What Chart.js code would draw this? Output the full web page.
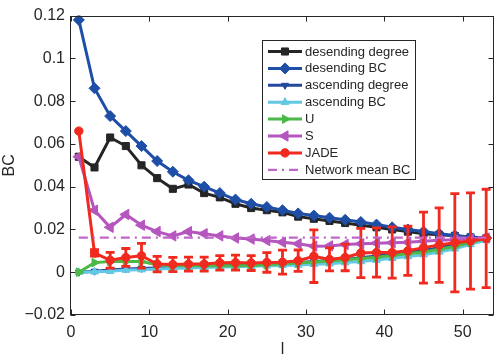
<!DOCTYPE html>
<html><head><meta charset="utf-8">
<script src="https://cdn.jsdelivr.net/npm/chart.js@4.4.0/dist/chart.umd.min.js"></script>
<style>html,body{margin:0;padding:0;background:#fff;}#wrap{width:501px;height:356px;}</style>
</head><body><div id="wrap"><canvas id="c" width="501" height="356"></canvas></div>
<script>
// ---- data ----
const lValues = [1,3,5,7,9,11,13,15,17,19,21,23,25,27,29,31,33,35,37,39,41,43,45,47,49,51,53];
const desendingDegree = [0.054,0.049,0.063,0.059,0.050,0.044,0.039,0.041,0.037,0.035,0.032,0.030,0.029,0.028,0.026,0.025,0.024,0.023,0.022,0.021,0.020,0.019,0.018,0.0175,0.017,0.0163,0.0158];
const desendingBC = [0.118,0.086,0.073,0.066,0.059,0.052,0.047,0.043,0.040,0.037,0.034,0.032,0.0305,0.029,0.0275,0.0265,0.0255,0.0245,0.0235,0.0223,0.021,0.020,0.019,0.018,0.0172,0.0165,0.016];
const ascendingDegree = [0.000,0.0005,0.001,0.0015,0.0018,0.002,0.0022,0.0025,0.0028,0.003,0.0032,0.0035,0.0038,0.0042,0.0046,0.005,0.0055,0.006,0.0068,0.0076,0.0085,0.0093,0.0102,0.0115,0.013,0.0145,0.016];
const ascendingBC = [0.000,0.0002,0.0005,0.001,0.0012,0.0015,0.0017,0.002,0.0022,0.0024,0.0026,0.0028,0.003,0.0032,0.0034,0.0037,0.004,0.0045,0.005,0.0057,0.0065,0.0073,0.0082,0.0095,0.011,0.013,0.015];
const uValues = [0.000,0.0045,0.005,0.005,0.005,0.0035,0.003,0.003,0.003,0.003,0.003,0.0032,0.0035,0.004,0.0043,0.0048,0.0052,0.0058,0.0064,0.007,0.0078,0.0086,0.0095,0.0107,0.012,0.014,0.0158];
const sValues = [0.054,0.029,0.021,0.027,0.022,0.019,0.017,0.019,0.018,0.017,0.016,0.0155,0.0148,0.0140,0.0133,0.0122,0.0123,0.0130,0.0133,0.0136,0.0138,0.014,0.0145,0.015,0.0152,0.0156,0.016];
const jadeValues = [0.066,0.0090,0.0056,0.0069,0.0077,0.0038,0.0036,0.0038,0.0038,0.0044,0.0045,0.0043,0.0046,0.0047,0.0054,0.0075,0.0060,0.0069,0.0090,0.0092,0.0092,0.0100,0.0115,0.0127,0.0138,0.0146,0.0158];
const jadeErr = [0,0.0015,0.0037,0.0042,0.0058,0.0036,0.0033,0.0033,0.0033,0.0034,0.0035,0.0035,0.0046,0.0056,0.0050,0.0123,0.0054,0.0062,0.0115,0.0115,0.0120,0.0115,0.0166,0.0174,0.0230,0.0225,0.0230];
const networkMeanBC = 0.0162;
const xTicks = [0,10,20,30,40,50];
const xTickLabels = ['0','10','20','30','40','50'];
const yTicks = [-0.02,0,0.02,0.04,0.06,0.08,0.1,0.12];
const yTickLabels = ['\u22120.02','0','0.02','0.04','0.06','0.08','0.1','0.12'];
const seriesLabels = ['desending degree','desending BC','ascending degree','ascending BC','U','S','JADE','Network mean BC'];

// ---- styles ----
const TXT = '#262626';
const FONT = 'Liberation Sans, Arial, Helvetica, sans-serif';
const cols = ['#252525','#1f4ea6','#24489e','#62c8e4','#4cb847','#b556be','#f02a1e','#c066c8'];
const styles = [
  {pointStyle:'rect', rotation:0, radius:5},
  {pointStyle:'rectRot', rotation:0, radius:5.5},
  {pointStyle:'triangle', rotation:180, radius:4},
  {pointStyle:'triangle', rotation:0, radius:4.5},
  {pointStyle:'triangle', rotation:90, radius:5},
  {pointStyle:'triangle', rotation:-90, radius:6},
  {pointStyle:'circle', rotation:0, radius:4.2},
  {pointStyle:false, rotation:0, radius:0}
];
const pts = arr => lValues.map((l,i)=>({x:l, y:arr[i]}));
const seriesData = [desendingDegree, desendingBC, ascendingDegree, ascendingBC, uValues, sValues, jadeValues];
const N = seriesLabels.length;
const datasets = seriesData.map((arr,i)=>({
  label: seriesLabels[i], data: pts(arr),
  borderColor: cols[i], backgroundColor: cols[i],
  borderWidth: 3,
  pointStyle: styles[i].pointStyle, pointRotation: styles[i].rotation,
  pointRadius: styles[i].radius, pointBorderWidth: 1,
  tension: 0, order: N - i
}));
datasets.push({
  label: seriesLabels[7],
  data: [{x:lValues[0], y:networkMeanBC},{x:lValues[lValues.length-1], y:networkMeanBC}],
  borderColor: cols[7], backgroundColor: cols[7], borderWidth: 2.2,
  borderDash: [9,5,2,5], pointRadius: 0, tension: 0, order: 0
});

const extras = {
  id: 'extras',
  afterDatasetDraw(chart, args) {
    if (args.index !== 6) return;
    const xs = chart.scales.x, ys = chart.scales.y, ctx = chart.ctx;
    ctx.save();
    ctx.strokeStyle = cols[6]; ctx.lineWidth = 2.8; ctx.lineCap = 'butt';
    lValues.forEach((l,i)=>{
      const e = jadeErr[i]; if (!e) return;
      const px = xs.getPixelForValue(l);
      const y1 = ys.getPixelForValue(jadeValues[i]-e), y2 = ys.getPixelForValue(jadeValues[i]+e);
      ctx.beginPath();
      ctx.moveTo(px, y1); ctx.lineTo(px, y2);
      ctx.moveTo(px-4.5, y1); ctx.lineTo(px+4.5, y1);
      ctx.moveTo(px-4.5, y2); ctx.lineTo(px+4.5, y2);
      ctx.stroke();
    });
    ctx.restore();
  },
  afterDraw(chart) {
    const ctx = chart.ctx, a = chart.chartArea, xs = chart.scales.x, ys = chart.scales.y;
    ctx.save();
    ctx.strokeStyle = TXT; ctx.lineWidth = 1;
    const L = Math.round(a.left)-0.5, R = Math.round(a.right)-0.5, T = Math.round(a.top)+0.5, B = Math.round(a.bottom)-0.5;
    ctx.strokeRect(L, T, R-L, B-T);
    ctx.beginPath();
    xTicks.forEach(v=>{ const px = Math.round(xs.getPixelForValue(v))+0.5;
      ctx.moveTo(px,B); ctx.lineTo(px,B-5); ctx.moveTo(px,T); ctx.lineTo(px,T+5); });
    yTicks.forEach(v=>{ const py = Math.round(ys.getPixelForValue(v))+0.5;
      ctx.moveTo(L,py); ctx.lineTo(L+5,py); ctx.moveTo(R,py); ctx.lineTo(R-5,py); });
    ctx.stroke();
    // legend
    const bx = 262.5, by = 40.5, bw = 153, bh = 139;
    ctx.fillStyle = '#fff'; ctx.fillRect(bx, by, bw, bh);
    ctx.strokeStyle = TXT; ctx.strokeRect(bx, by, bw, bh);
    ctx.font = '13px ' + FONT; ctx.textBaseline = 'middle'; ctx.textAlign = 'left';
    chart.data.datasets.forEach((ds,i)=>{
      const cy = 51.5 + i*16.9;
      ctx.save();
      ctx.strokeStyle = ds.borderColor; ctx.lineWidth = ds.borderWidth;
      if (ds.borderDash) ctx.setLineDash(ds.borderDash);
      ctx.beginPath(); ctx.moveTo(268, cy); ctx.lineTo(302, cy); ctx.stroke();
      ctx.setLineDash([]);
      if (ds.pointStyle) {
        ctx.fillStyle = ds.backgroundColor; ctx.strokeStyle = ds.borderColor; ctx.lineWidth = 1;
        Chart.helpers.drawPoint(ctx, {pointStyle: ds.pointStyle, rotation: ds.pointRotation, radius: ds.pointRadius, borderWidth: 1}, 285, cy);
      }
      ctx.restore();
      ctx.fillStyle = TXT;
      ctx.fillText(ds.label, 305, cy + 0.5);
    });
    ctx.restore();
  }
};

new Chart(document.getElementById('c'), {
  type: 'line',
  data: { datasets },
  options: {
    responsive: false, animation: false, devicePixelRatio: 1,
    layout: { padding: { top: 12, right: 7, left: 0, bottom: 0 } },
    plugins: { legend: { display: false }, tooltip: { enabled: false } },
    scales: {
      x: {
        type: 'linear', min: 0, max: 54,
        afterBuildTicks: s => { s.ticks = xTicks.map(v=>({value:v})); },
        afterFit: s => { s.height = 41; },
        grid: { display: false, drawTicks: false },
        border: { display: false },
        ticks: { color: TXT, font: { family: FONT, size: 16 }, padding: 8, maxRotation: 0, autoSkip: false,
                 callback: (v,i) => xTickLabels[i] },
        title: { display: true, text: 'l', color: TXT, font: { family: FONT, size: 16 }, padding: { top: 0, bottom: -3 } }
      },
      y: {
        type: 'linear', min: -0.02, max: 0.12,
        afterBuildTicks: s => { s.ticks = yTicks.map(v=>({value:v})); },
        afterFit: s => { s.width = 71; },
        grid: { display: false, drawTicks: false },
        border: { display: false },
        ticks: { color: TXT, font: { family: FONT, size: 16 }, padding: 6, autoSkip: false,
                 callback: (v,i) => yTickLabels[i] },
        title: { display: true, text: 'BC', color: TXT, font: { family: FONT, size: 16 }, padding: 0 }
      }
    }
  },
  plugins: [extras]
});
</script></body></html>
